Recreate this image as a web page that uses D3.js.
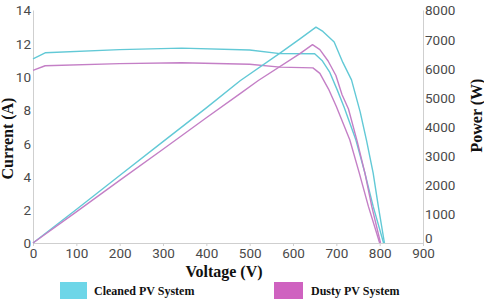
<!DOCTYPE html>
<html>
<head>
<meta charset="utf-8">
<script src="https://cdn.jsdelivr.net/npm/d3@7"></script>
<style>
  body { margin: 0; background: #fff; }
  .axis text { font-family: Roboto, "Noto Sans", sans-serif; font-size: 13.5px; fill: #4a4a4a; }
  .axis path, .axis line { stroke: #cfcfcf; }
  .title { font-family: "Liberation Serif", "Times New Roman", serif; font-weight: bold; fill: #111; }
</style>
</head>
<body>
<div class="chart"></div>
<script>
// I-V and P-V curves
const cleanedCurrentV = [0, 28, 200, 343, 500, 570, 650, 667, 685, 702, 718, 745, 766, 785, 809];
const cleanedCurrent = [11.07, 11.43, 11.62, 11.71, 11.6, 11.38, 11.37, 10.97, 10.25, 9.2, 8.15, 6.2, 4.2, 2.2, 0];

const dustyCurrentV = [0, 28, 200, 343, 500, 570, 646, 662, 682, 700, 731, 753, 774, 800];
const dustyCurrent = [10.37, 10.65, 10.78, 10.83, 10.74, 10.57, 10.52, 10.19, 9.25, 8.2, 6.2, 4.2, 2.2, 0];

const cleanedPowerV = [0, 100, 200, 300, 400, 478, 570, 616, 653, 669, 695, 715, 735, 755, 770, 785, 797, 811];
const cleanedPower = [0, 1150, 2320, 3480, 4640, 5570, 6520, 7010, 7410, 7263, 6900, 6200, 5600, 4500, 3500, 2400, 1250, 0];

const dustyPowerV = [0, 100, 200, 300, 400, 478, 520, 616, 645, 662, 681, 699, 713, 728, 748, 766, 782, 802];
const dustyPower = [0, 1070, 2150, 3220, 4300, 5130, 5580, 6500, 6810, 6640, 6250, 5750, 5100, 4600, 3500, 2400, 1240, 0];

const xTicks = [0, 100, 200, 300, 400, 500, 600, 700, 800, 900];
const currentTicks = [0, 2, 4, 6, 8, 10, 12, 14];
const powerTicks = [0, 1000, 2000, 3000, 4000, 5000, 6000, 7000, 8000];

const legendLabels = ["Cleaned PV System", "Dusty PV System"];

const cleanColor = "#62c9d6", dustyColor = "#c47fc6";

const width = 484, height = 303;
const margin = { top: 10, right: 61, bottom: 60, left: 33 };
const plotW = width - margin.left - margin.right,
  plotH = height - margin.top - margin.bottom;

const svg = d3
  .select(".chart")
  .append("svg")
  .attr("width", width)
  .attr("height", height)
  .append("g")
  .attr("transform", "translate(" + margin.left + "," + margin.top + ")");

// scales
const x = d3.scaleLinear().domain([0, 900]).range([0, plotW]);
const yI = d3.scaleLinear().domain([0, 14]).range([plotH, 0]);
const yP = d3.scaleLinear().domain([0, 8000]).range([plotH, 0]);

// axes
svg
  .append("g")
  .attr("class", "axis x-axis")
  .attr("transform", `translate(0, ${plotH})`)
  .call(d3.axisBottom(x).tickValues(xTicks).tickSizeInner(3).tickSizeOuter(0).tickPadding(2));

svg
  .append("g")
  .attr("class", "axis y-axis")
  .call(d3.axisLeft(yI).tickValues(currentTicks).tickSize(0).tickPadding(2));

svg
  .append("g")
  .attr("class", "axis y2-axis")
  .attr("transform", `translate(${plotW}, 0)`)
  .call(d3.axisRight(yP).tickValues(powerTicks).tickFormat(d3.format("d")).tickSize(0).tickPadding(2));

svg.selectAll(".y-axis .tick text, .y2-axis .tick text").attr("dy", "0.36em");
// the bottom power label sits a little above the 900 label, as in the source
svg.selectAll(".y2-axis .tick text").filter(d => d === 0).attr("dy", "-0.05em");

// lines
const zip = (a, b) => a.map((v, i) => [v, b[i]]);
const lineI = d3.line().x(d => x(d[0])).y(d => yI(d[1]));
const lineP = d3.line().x(d => x(d[0])).y(d => yP(d[1]));

const series = [
  { data: zip(cleanedCurrentV, cleanedCurrent), line: lineI, color: cleanColor },
  { data: zip(dustyCurrentV, dustyCurrent), line: lineI, color: dustyColor },
  { data: zip(cleanedPowerV, cleanedPower), line: lineP, color: cleanColor },
  { data: zip(dustyPowerV, dustyPower), line: lineP, color: dustyColor }
];

series.forEach(s => {
  svg
    .append("path")
    .datum(s.data)
    .attr("fill", "none")
    .attr("stroke", s.color)
    .attr("stroke-width", 1.4)
    .attr("stroke-linejoin", "round")
    .attr("d", s.line);
});

// axis titles
svg
  .append("text")
  .attr("class", "title")
  .attr("transform", `translate(${-20}, ${plotH / 2 + 12}) rotate(-90)`)
  .attr("text-anchor", "middle")
  .style("font-size", "16px")
  .text("Current (A)");

svg
  .append("text")
  .attr("class", "title")
  .attr("transform", `translate(${plotW + 59}, ${plotH / 2 - 11}) rotate(-90)`)
  .attr("text-anchor", "middle")
  .style("font-size", "16px")
  .text("Power (W)");

svg
  .append("text")
  .attr("class", "title")
  .attr("x", 191)
  .attr("y", plotH + 34)
  .attr("text-anchor", "middle")
  .style("font-size", "16px")
  .text("Voltage (V)");

// legend
const legendColors = ["#6dd6e8", "#cf62c0"];
const legendX = [27, 241];
const legend = svg
  .selectAll(".legend")
  .data(legendLabels)
  .enter()
  .append("g")
  .attr("class", "legend")
  .attr("transform", (d, i) => `translate(${legendX[i]}, ${plotH + 39})`);

legend
  .append("rect")
  .attr("width", (d, i) => (i === 0 ? 27 : 29))
  .attr("height", 17)
  .attr("fill", (d, i) => legendColors[i]);

legend
  .append("text")
  .attr("class", "title")
  .attr("x", (d, i) => (i === 0 ? 34 : 37))
  .attr("y", 13)
  .style("font-size", "12px")
  .text(d => d);
</script>
</body>
</html>
